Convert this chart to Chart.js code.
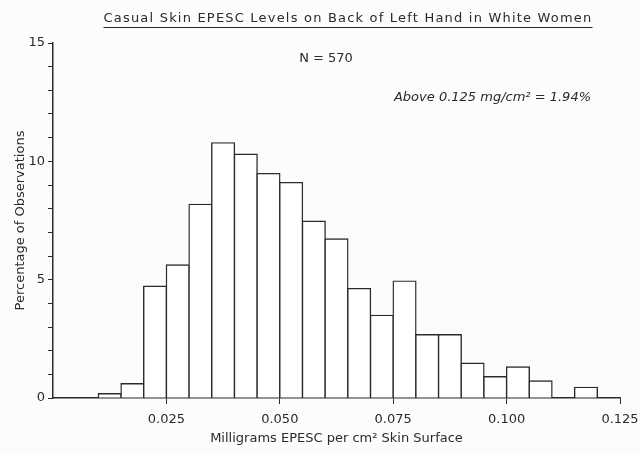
<!DOCTYPE html>
<html>
<head>
<meta charset="utf-8">
<script src="https://cdn.jsdelivr.net/npm/chart.js@4"></script>
<style>
  html, body { margin: 0; padding: 0; background: #fcfcfb; }
  #wrap { width: 640px; height: 454px; }
</style>
</head>
<body>
<div id="wrap"><canvas id="grafico"></canvas></div>
<script>
// Histograma EPESC

const binCenters = [
    0.0025, 0.0075, 0.0125, 0.0175, 0.0225, 0.0275, 0.0325, 0.0375, 0.0425,
    0.0475, 0.0525, 0.0575, 0.0625, 0.0675, 0.0725, 0.0775, 0.0825, 0.0875,
    0.0925, 0.0975, 0.1025, 0.1075, 0.1125, 0.1175, 0.1225,
];
const percentages = [
    0, 0, 0.18, 0.6, 4.72, 5.62, 8.18, 10.78, 10.3,
    9.48, 9.1, 7.47, 6.72, 4.62, 3.49, 4.94, 2.67, 2.67,
    1.47, 0.9, 1.31, 0.72, 0, 0.45, 0,
];
const xTickValues = [0.025, 0.05, 0.075, 0.1, 0.125];
const yLabelValues = [0, 5, 10, 15];

const titleText = "Casual Skin EPESC Levels on Back of Left Hand in White Women";
const sampleText = "N = 570";
const aboveText = "Above 0.125 mg/cm² = 1.94%";

const ink = "#2a2a2a";
const font = "'DejaVu Sans', sans-serif";

const textos = {
    id: "textos",
    afterDraw(chart) {
        const ctx = chart.ctx;
        ctx.save();
        ctx.fillStyle = ink;
        ctx.strokeStyle = ink;
        ctx.textBaseline = "alphabetic";
        ctx.textAlign = "center";

        ctx.font = "13px " + font;
        ctx.letterSpacing = "1.2px";
        ctx.fillText(titleText, 348, 22);
        const w = ctx.measureText(titleText).width;
        ctx.lineWidth = 1.2;
        ctx.beginPath();
        ctx.moveTo(348 - w / 2, 27.5);
        ctx.lineTo(348 + w / 2, 27.5);
        ctx.stroke();

        ctx.font = "13px " + font;
        ctx.letterSpacing = "0px";
        ctx.fillText(sampleText, 326, 62);

        ctx.font = "italic 13px " + font;
        ctx.textAlign = "right";
        ctx.fillText(aboveText, 591, 101);
        ctx.restore();
    },
};

const dataHist = {
    datasets: [
        {
            label: "Percentage",
            data: binCenters.map((x, i) => ({ x: x, y: percentages[i] })),
            backgroundColor: "#ffffff",
            borderColor: ink,
            borderWidth: 1.4,
            inflateAmount: 0.7,
            barPercentage: 1,
            categoryPercentage: 1,
        },
    ],
};

const configHist = {
    type: "bar",
    data: dataHist,
    plugins: [textos],
    options: {
        responsive: true,
        maintainAspectRatio: false,
        animation: false,
        layout: { padding: { top: 43, right: 20, left: 9, bottom: 8 } },
        plugins: {
            legend: { display: false },
            tooltip: { enabled: false },
        },
        scales: {
            x: {
                type: "linear",
                min: 0,
                max: 0.125,
                offset: false,
                grid: {
                    offset: false,
                    drawOnChartArea: false,
                    drawTicks: true,
                    tickLength: 6,
                    color: ink,
                },
                border: { color: ink, width: 1.5 },
                afterBuildTicks(scale) {
                    scale.ticks = xTickValues.map((v) => ({ value: v }));
                },
                afterFit(scale) {
                    scale.height = 48;
                    scale.paddingLeft = 0;
                    scale.paddingRight = 0;
                },
                ticks: {
                    color: ink,
                    font: { family: font, size: 13 },
                    padding: 8,
                    maxRotation: 0,
                    callback: (v) => v.toFixed(3),
                },
                title: {
                    display: true,
                    text: "Milligrams EPESC per cm² Skin Surface",
                    color: ink,
                    font: { family: font, size: 13 },
                    padding: { top: 0, bottom: 0 },
                },
            },
            y: {
                min: 0,
                max: 15,
                grid: {
                    drawOnChartArea: false,
                    drawTicks: true,
                    tickLength: 5,
                    color: ink,
                },
                border: { color: ink, width: 1.5 },
                afterFit(scale) {
                    scale.width = 44;
                    scale.paddingTop = 0;
                    scale.paddingBottom = 0;
                },
                ticks: {
                    stepSize: 1,
                    color: ink,
                    font: { family: font, size: 13 },
                    padding: 3,
                    callback: (v) => (yLabelValues.includes(v) ? String(v) : ""),
                },
                title: {
                    display: true,
                    text: "Percentage of Observations",
                    color: ink,
                    font: { family: font, size: 13 },
                    padding: { bottom: 0 },
                },
            },
        },
    },
};

var grafico = new Chart(document.getElementById("grafico"), configHist);
</script>
</body>
</html>
